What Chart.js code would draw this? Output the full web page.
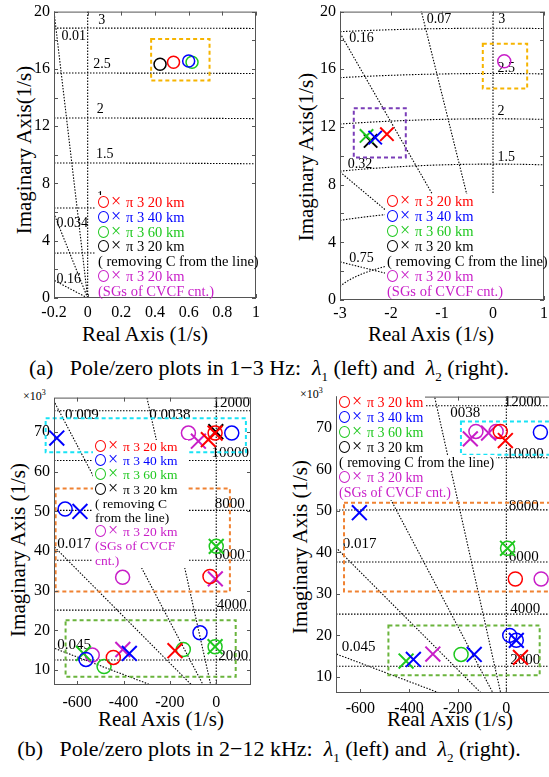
<!DOCTYPE html>
<html>
<head>
<meta charset="utf-8">
<title>Pole/zero plots</title>
<script src="https://cdn.jsdelivr.net/npm/chart.js@4.4.1/dist/chart.umd.min.js"></script>
<style>
  html, body { margin: 0; padding: 0; background: #fff; }
  body { position: relative; width: 549px; height: 777px; overflow: hidden; color: #000;
         font-family: 'Liberation Serif'; }
  canvas { position: absolute; }
  .t { position: absolute; white-space: pre; line-height: 1; font-family: 'Liberation Serif'; }
  .ytitle { font-size: 21px; transform: translate(-50%, -50%) rotate(-90deg); }
  .xtitle { font-size: 21px; transform: translate(-50%, -50%); }
  .cap { font-size: 22px; left: 0; width: 538px; text-align: center; transform: translateY(-50%); }
  .exp { font-size: 12px; transform: translateY(-50%); }
  .legend { position: absolute; font-family: 'Liberation Serif'; }
  .legend.box { background: #fff; }
  .legend div { white-space: nowrap; padding-left: 2px; }
  .legend.rows div { background: #fff; width: fit-content; padding-right: 2px; }
  .mk { display: inline-block; width: 28px; font-size: 18px; line-height: 10px; }
  .mk i { display: inline-block; width: 9px; height: 10px; border: 1.3px solid currentColor;
          border-radius: 50%; vertical-align: -1px; margin-right: 2px; }
</style>
</head>
<body>
<div class="t ytitle" style="left:24px;top:150px">Imaginary Axis(1/s)</div>
<div class="t ytitle" style="left:306px;top:157px">Imaginary Axis(1/s)</div>
<div class="t ytitle" style="left:18px;top:550px">Imaginary Axis (1/s)</div>
<div class="t ytitle" style="left:300px;top:547px">Imaginary Axis (1/s)</div>
<div class="t xtitle" style="left:145px;top:334px">Real Axis (1/s)</div>
<div class="t xtitle" style="left:431px;top:334px">Real Axis (1/s)</div>
<div class="t xtitle" style="left:161px;top:719px">Real Axis (1/s)</div>
<div class="t xtitle" style="left:450px;top:719px">Real Axis (1/s)</div>
<div class="t exp" style="left:23px;top:395px">×10<sup style="font-size:8px">3</sup></div>
<div class="t exp" style="left:300px;top:393px">×10<sup style="font-size:8px">3</sup></div>
<div class="t cap" style="top:370px">(a)   Pole/zero plots in 1−3 Hz:  <i>λ</i><sub style="font-size:13px">1</sub> (left) and  <i>λ</i><sub style="font-size:13px">2</sub> (right).</div>
<div class="t cap" style="top:751px">(b)   Pole/zero plots in 2−12 kHz:  <i>λ</i><sub style="font-size:13px">1</sub> (left) and  <i>λ</i><sub style="font-size:13px">2</sub> (right).</div>

<script>
// legend series
const seriesLabels = ['π 3 20 km', 'π 3 40 km', 'π 3 60 km', 'π 3 20 km', 'π 3 20 km'];
const wideNotes = [['( removing C from the line)'], ['(SGs of CVCF cnt.)']];
const narrowNotes = [['( removing C', 'from the line)'], ['(SGs of CVCF', 'cnt.)']];

// zeros (circles) and poles (crosses): [series, real, imag]
// 1-3 Hz band, imag in 1/s
const lowL1Zeros = [[0, 0.51, 16.46], [1, 0.60, 16.55], [2, 0.62, 16.46], [3, 0.43, 16.32]];
const lowL1Poles = [];
const lowL2Zeros = [[4, 0.22, 16.55]];
const lowL2Poles = [[2, -2.48, 11.38], [1, -2.31, 11.26], [3, -2.40, 11.03], [0, -2.08, 11.5]];

// 2-12 kHz band, imag in 10^3 1/s
const highL1Zeros = [
  [0, -5, 69.75], [0, -27, 33.6], [0, -444, 13.2],
  [1, 67, 69.75], [1, -652, 50.6], [1, -70, 19.4], [1, -562, 12.7],
  [2, 0, 41.2], [2, -5, 15.9], [2, -142, 15.2], [2, -484, 10.9],
  [4, -120, 69.75], [4, -404, 33.4], [4, -535, 13.8]
];
const highL1Poles = [
  [0, -34, 68.1], [0, -5, 69.75], [0, -178, 14.9],
  [1, -688, 68.5], [1, -588, 50.0], [1, -375, 14.2],
  [2, 0, 41.2], [2, -5, 15.9], [2, -573, 14.2],
  [3, -2, 70.1],
  [4, -77, 67.7], [4, -4, 33.0], [4, -403, 15.2]
];
const highL2Zeros = [
  [0, -25, 69.2], [0, 37, 33.6],
  [1, 140, 69.0], [1, 14, 20.0], [1, 41, 18.8],
  [2, -186, 15.4], [2, 5, 41.0],
  [4, -125, 69.2], [4, -42, 69.2], [4, 143, 33.6]
];
const highL2Poles = [
  [0, -4, 67.0], [0, 58, 14.7],
  [1, -604, 49.6], [1, -132, 15.4], [1, 41, 18.8], [1, -382, 14.2],
  [2, 5, 41.0], [2, -412, 13.8],
  [4, -148, 67.4], [4, -73, 68.8], [4, -302, 15.5]
];

// axis ticks
const lowL1XTicks = [-0.2, 0, 0.2, 0.4, 0.6, 0.8, 1];
const lowL2XTicks = [-3, -2, -1, 0, 1];
const lowYTicks = [0, 4, 8, 12, 16, 20];
const highXTicks = [-600, -400, -200, 0];
const highYTicks = [10, 20, 30, 40, 50, 60, 70];

// s-plane grid: damping ratios and natural frequencies (Hz)
const lowL1Zeta = [0.01, 0.034, 0.16];
const lowL2Zeta = [0.07, 0.16, 0.32, 0.75];
const lowFreqHz = [0.5, 1, 1.5, 2, 2.5, 3];
const highZeta = [0.0038, 0.009, 0.017, 0.045];
const highFreqHz = [2000, 4000, 6000, 8000, 10000, 12000];

// grid annotations: [text, real, imag]
const lowL1GridText = [['3', 0.063, 19.42], ['2.5', 0.033, 16.34], ['2', 0.054, 13.17], ['1.5', 0.049, 10.0],
  ['1', 0.054, 7.04], ['0.01', -0.155, 18.26], ['0.034', -0.185, 5.23], ['0.16', -0.185, 1.3]];
const lowL2GridText = [['0.07', -1.30, 19.43], ['3', 0.104, 19.43], ['0.16', -2.82, 18.12], ['2.5', 0.09, 16.09],
  ['2', 0.09, 13.1], ['1.5', 0.09, 9.88], ['0.32', -2.85, 9.43], ['0.75', -2.82, 2.87]];
const highL1GridText = [['0.009', -653, 74.36], ['0.0038', -289, 74.36], ['12000', -16, 77.27], ['10000', -20, 64.74],
  ['8000', -6, 51.8], ['6000', -6, 39.0], ['4000', 2, 26.3], ['2000', 9, 13.5], ['0.017', -686, 41.8], ['0.045', -686, 16.3]];
const highL2GridText = [['0038', -230, 73.6], ['12000', -11, 76.24], ['10000', 0, 63.76], ['8000', 9.5, 51.2],
  ['6000', 9.5, 38.8], ['4000', 16.5, 26.4], ['2000', 16.5, 14.0], ['0.017', -672, 42.0], ['0.045', -676, 17.2]];

// highlighted regions: [re1, im1, re2, im2, colour]
const lowL1Boxes = [[0.377, 15.19, 0.724, 18.08, 'amber']];
const lowL2Boxes = [[-0.20, 14.67, 0.67, 17.77, 'amber'], [-2.73, 9.88, -1.71, 13.29, 'violet']];
const highL1Boxes = [[-736, 64.9, 128, 73.5, 'cyan'], [-693, 29.8, 59, 55.8, 'orange'], [-650, 8.35, 84, 22.6, 'green']];
const highL2Boxes = [[-186.5, 63.6, 260, 71.6, 'cyan'], [-667, 30.6, 260, 52.0, 'orange'], [-484.6, 10.4, 137, 22.4, 'green']];

const seriesColors = ['#ff0000', '#0000ff', '#1ec81e', '#000000', '#c81ec8'];
const boxColors = { amber: '#f6b400', violet: '#7a3db8', cyan: '#19e3f5', orange: '#f08232', green: '#6ab43c' };

const AXIS_W = 54, AXIS_H = 40, PAD_T = 12, PAD_R = 20;
const FONT = "'Liberation Serif'";

// sgrid lines, labels, boxes and the axes frame
const pzGrid = {
  id: 'pzGrid',
  beforeDatasetsDraw(chart, args, opt) {
    const { ctx, chartArea: a, scales: { x, y } } = chart;
    const px = v => x.getPixelForValue(v), py = v => y.getPixelForValue(v);
    ctx.save();
    ctx.beginPath();
    ctx.rect(a.left, a.top, a.right - a.left, a.bottom - a.top);
    ctx.clip();
    ctx.strokeStyle = '#000';
    ctx.lineWidth = 1.1;
    ctx.setLineDash([1.5, 1.5]);

    ctx.beginPath();
    ctx.moveTo(px(0), a.top);
    ctx.lineTo(px(0), a.bottom);
    ctx.stroke();

    // constant damping rays
    opt.zeta.forEach(z => {
      const s = Math.sqrt(1 - z * z);
      const r = Math.min(-x.min / z, y.max * opt.ySc / s) * 1.05;
      ctx.beginPath();
      ctx.moveTo(px(0), py(0));
      ctx.lineTo(px(-z * r), py(s * r / opt.ySc));
      ctx.stroke();
    });

    // constant natural frequency circles
    opt.freq.forEach(f => {
      const w = 2 * Math.PI * f;
      ctx.beginPath();
      let first = true;
      for (let i = 0; i <= 300; i++) {
        const re = x.min + (x.max - x.min) * i / 300;
        if (Math.abs(re) >= w) continue;
        const im = Math.sqrt(w * w - re * re) / opt.ySc;
        if (first) ctx.moveTo(px(re), py(im)); else ctx.lineTo(px(re), py(im));
        first = false;
      }
      ctx.stroke();
    });
    ctx.restore();

    ctx.save();
    ctx.fillStyle = '#000';
    ctx.font = opt.labelSize + 'px ' + FONT;
    ctx.textAlign = 'left';
    ctx.textBaseline = 'middle';
    opt.labels.forEach(([t, re, im]) => ctx.fillText(t, px(re), py(im)));

    ctx.lineWidth = 2;
    ctx.setLineDash([4, 3]);
    opt.boxes.forEach(([x1, y1, x2, y2, c]) => {
      ctx.strokeStyle = boxColors[c];
      ctx.strokeRect(px(x1), py(y2), px(x2) - px(x1), py(y1) - py(y2));
    });

    // frame with inward ticks on all sides
    ctx.setLineDash([]);
    ctx.strokeStyle = '#555';
    ctx.lineWidth = 1;
    ctx.strokeRect(a.left + 0.5, a.top + 0.5, a.right - a.left - 1, a.bottom - a.top - 1);
    ctx.beginPath();
    const yt = opt.yTicks.slice();
    if (opt.minor) for (let i = 1; i < opt.yTicks.length; i++) yt.push((opt.yTicks[i] + opt.yTicks[i - 1]) / 2);
    yt.forEach(v => {
      const p = Math.round(py(v)) + 0.5;
      ctx.moveTo(a.left, p); ctx.lineTo(a.left + 4, p);
      ctx.moveTo(a.right, p); ctx.lineTo(a.right - 4, p);
    });
    opt.xTicks.forEach(v => {
      const p = Math.round(px(v)) + 0.5;
      ctx.moveTo(p, a.bottom); ctx.lineTo(p, a.bottom - 4);
      ctx.moveTo(p, a.top); ctx.lineTo(p, a.top + 4);
    });
    ctx.stroke();
    ctx.restore();
  }
};

function pointSets(zeros, poles, ring, cross) {
  const sets = [];
  seriesColors.forEach((c, s) => {
    const z = zeros.filter(p => p[0] === s).map(p => ({ x: p[1], y: p[2] }));
    const p = poles.filter(p => p[0] === s).map(p => ({ x: p[1], y: p[2] }));
    if (z.length) sets.push({ data: z, pointStyle: 'circle', pointRadius: ring, pointBorderColor: c,
      pointBackgroundColor: 'rgba(0,0,0,0)', pointBorderWidth: 1.5, clip: false });
    if (p.length) sets.push({ data: p, pointStyle: 'crossRot', pointRadius: cross, pointBorderColor: c,
      pointBorderWidth: 2, clip: false });
  });
  return sets;
}

function makeLegend(L) {
  const div = document.createElement('div');
  div.className = 'legend ' + L.mode;
  Object.assign(div.style, { left: L.left + 'px', top: L.top + 'px', lineHeight: L.lh + 'px', fontSize: L.fs + 'px' });
  if (L.width) div.style.width = L.width + 'px';
  if (L.height) div.style.height = L.height + 'px';
  const row = (html, color) => {
    const r = document.createElement('div');
    r.innerHTML = html;
    r.style.color = color;
    div.appendChild(r);
  };
  seriesLabels.forEach((lab, s) => {
    row('<span class="mk"><i></i>×</span>' + lab, seriesColors[s]);
    if (s === 3) L.notes[0].forEach(t => row(t, seriesColors[3]));
    if (s === 4) L.notes[1].forEach(t => row(t, seriesColors[4]));
  });
  document.body.appendChild(div);
}

function makePlot(p) {
  const [l, t, r, b] = p.area;
  const w = r - l + AXIS_W + PAD_R, h = b - t + PAD_T + AXIS_H;
  const cv = document.createElement('canvas');
  cv.width = w; cv.height = h;
  Object.assign(cv.style, { left: (l - AXIS_W) + 'px', top: (t - PAD_T) + 'px', width: w + 'px', height: h + 'px' });
  document.body.appendChild(cv);

  const tickFont = { family: FONT, size: 16 };
  new Chart(cv, {
    type: 'scatter',
    data: { datasets: pointSets(p.zeros, p.poles, p.ring, p.cross) },
    options: {
      responsive: false,
      animation: false,
      events: [],
      layout: { padding: { top: PAD_T, right: PAD_R, left: 0, bottom: 0 } },
      scales: {
        x: {
          type: 'linear', min: p.xr[0], max: p.xr[1],
          grid: { display: false, drawTicks: false }, border: { display: false },
          afterBuildTicks: s => { s.ticks = p.xTicks.map(v => ({ value: v })); },
          afterFit: s => { s.height = AXIS_H; },
          ticks: { font: tickFont, color: '#000', padding: p.xPad, autoSkip: false, maxRotation: 0, callback: v => String(v) }
        },
        y: {
          type: 'linear', min: p.yr[0], max: p.yr[1],
          grid: { display: false, drawTicks: false }, border: { display: false },
          afterBuildTicks: s => { s.ticks = p.yTicks.map(v => ({ value: v })); },
          afterFit: s => { s.width = AXIS_W; },
          ticks: { font: tickFont, color: '#000', padding: 4, autoSkip: false, callback: v => String(v) }
        }
      },
      plugins: {
        legend: { display: false },
        tooltip: { enabled: false },
        pzGrid: { zeta: p.zeta, freq: p.freq, ySc: p.ySc, labels: p.labels, labelSize: p.labelSize,
                  boxes: p.boxes, xTicks: p.xTicks, yTicks: p.yTicks, minor: p.minor }
      }
    },
    plugins: [pzGrid]
  });
  makeLegend(p.legend);
}

const plots = [
  { area: [54, 10, 256, 298], xr: [-0.2, 1], yr: [0, 20], xTicks: lowL1XTicks, yTicks: lowYTicks, minor: true,
    ySc: 1, zeta: lowL1Zeta, freq: lowFreqHz, zeros: lowL1Zeros, poles: lowL1Poles,
    labels: lowL1GridText, labelSize: 14, boxes: lowL1Boxes, xPad: 5, ring: 6, cross: 9.5,
    legend: { left: 96, top: 195, width: 159, height: 102, lh: 14.8, fs: 14.5, mode: 'box', notes: wideNotes } },
  { area: [340, 10, 544, 300], xr: [-3, 1], yr: [0, 20], xTicks: lowL2XTicks, yTicks: lowYTicks, minor: true,
    ySc: 1, zeta: lowL2Zeta, freq: lowFreqHz, zeros: lowL2Zeros, poles: lowL2Poles,
    labels: lowL2GridText, labelSize: 14, boxes: lowL2Boxes, xPad: 4, ring: 6.5, cross: 9.5,
    legend: { left: 385, top: 194, width: 158, height: 105, lh: 15, fs: 14.5, mode: 'box', notes: wideNotes } },
  { area: [54, 396, 251, 685], xr: [-700, 150], yr: [6.25, 78.7], xTicks: highXTicks, yTicks: highYTicks, minor: false,
    ySc: 1000, zeta: highZeta, freq: highFreqHz, zeros: highL1Zeros, poles: highL1Poles,
    labels: highL1GridText, labelSize: 15, boxes: highL1Boxes, xPad: 8, ring: 7, cross: 10.5,
    legend: { left: 93, top: 440, width: 95, height: 128, lh: 14.2, fs: 13.5, mode: 'box', notes: narrowNotes } },
  { area: [336, 395, 555, 693], xr: [-700, 200], yr: [6.1, 77.6], xTicks: highXTicks, yTicks: highYTicks, minor: false,
    ySc: 1000, zeta: highZeta, freq: highFreqHz, zeros: highL2Zeros, poles: highL2Poles,
    labels: highL2GridText, labelSize: 15, boxes: highL2Boxes, xPad: 6, ring: 7, cross: 10.5,
    legend: { left: 337, top: 395, lh: 15, fs: 14, mode: 'rows', notes: wideNotes } }
];

plots.forEach(makePlot);
</script>
</body>
</html>
